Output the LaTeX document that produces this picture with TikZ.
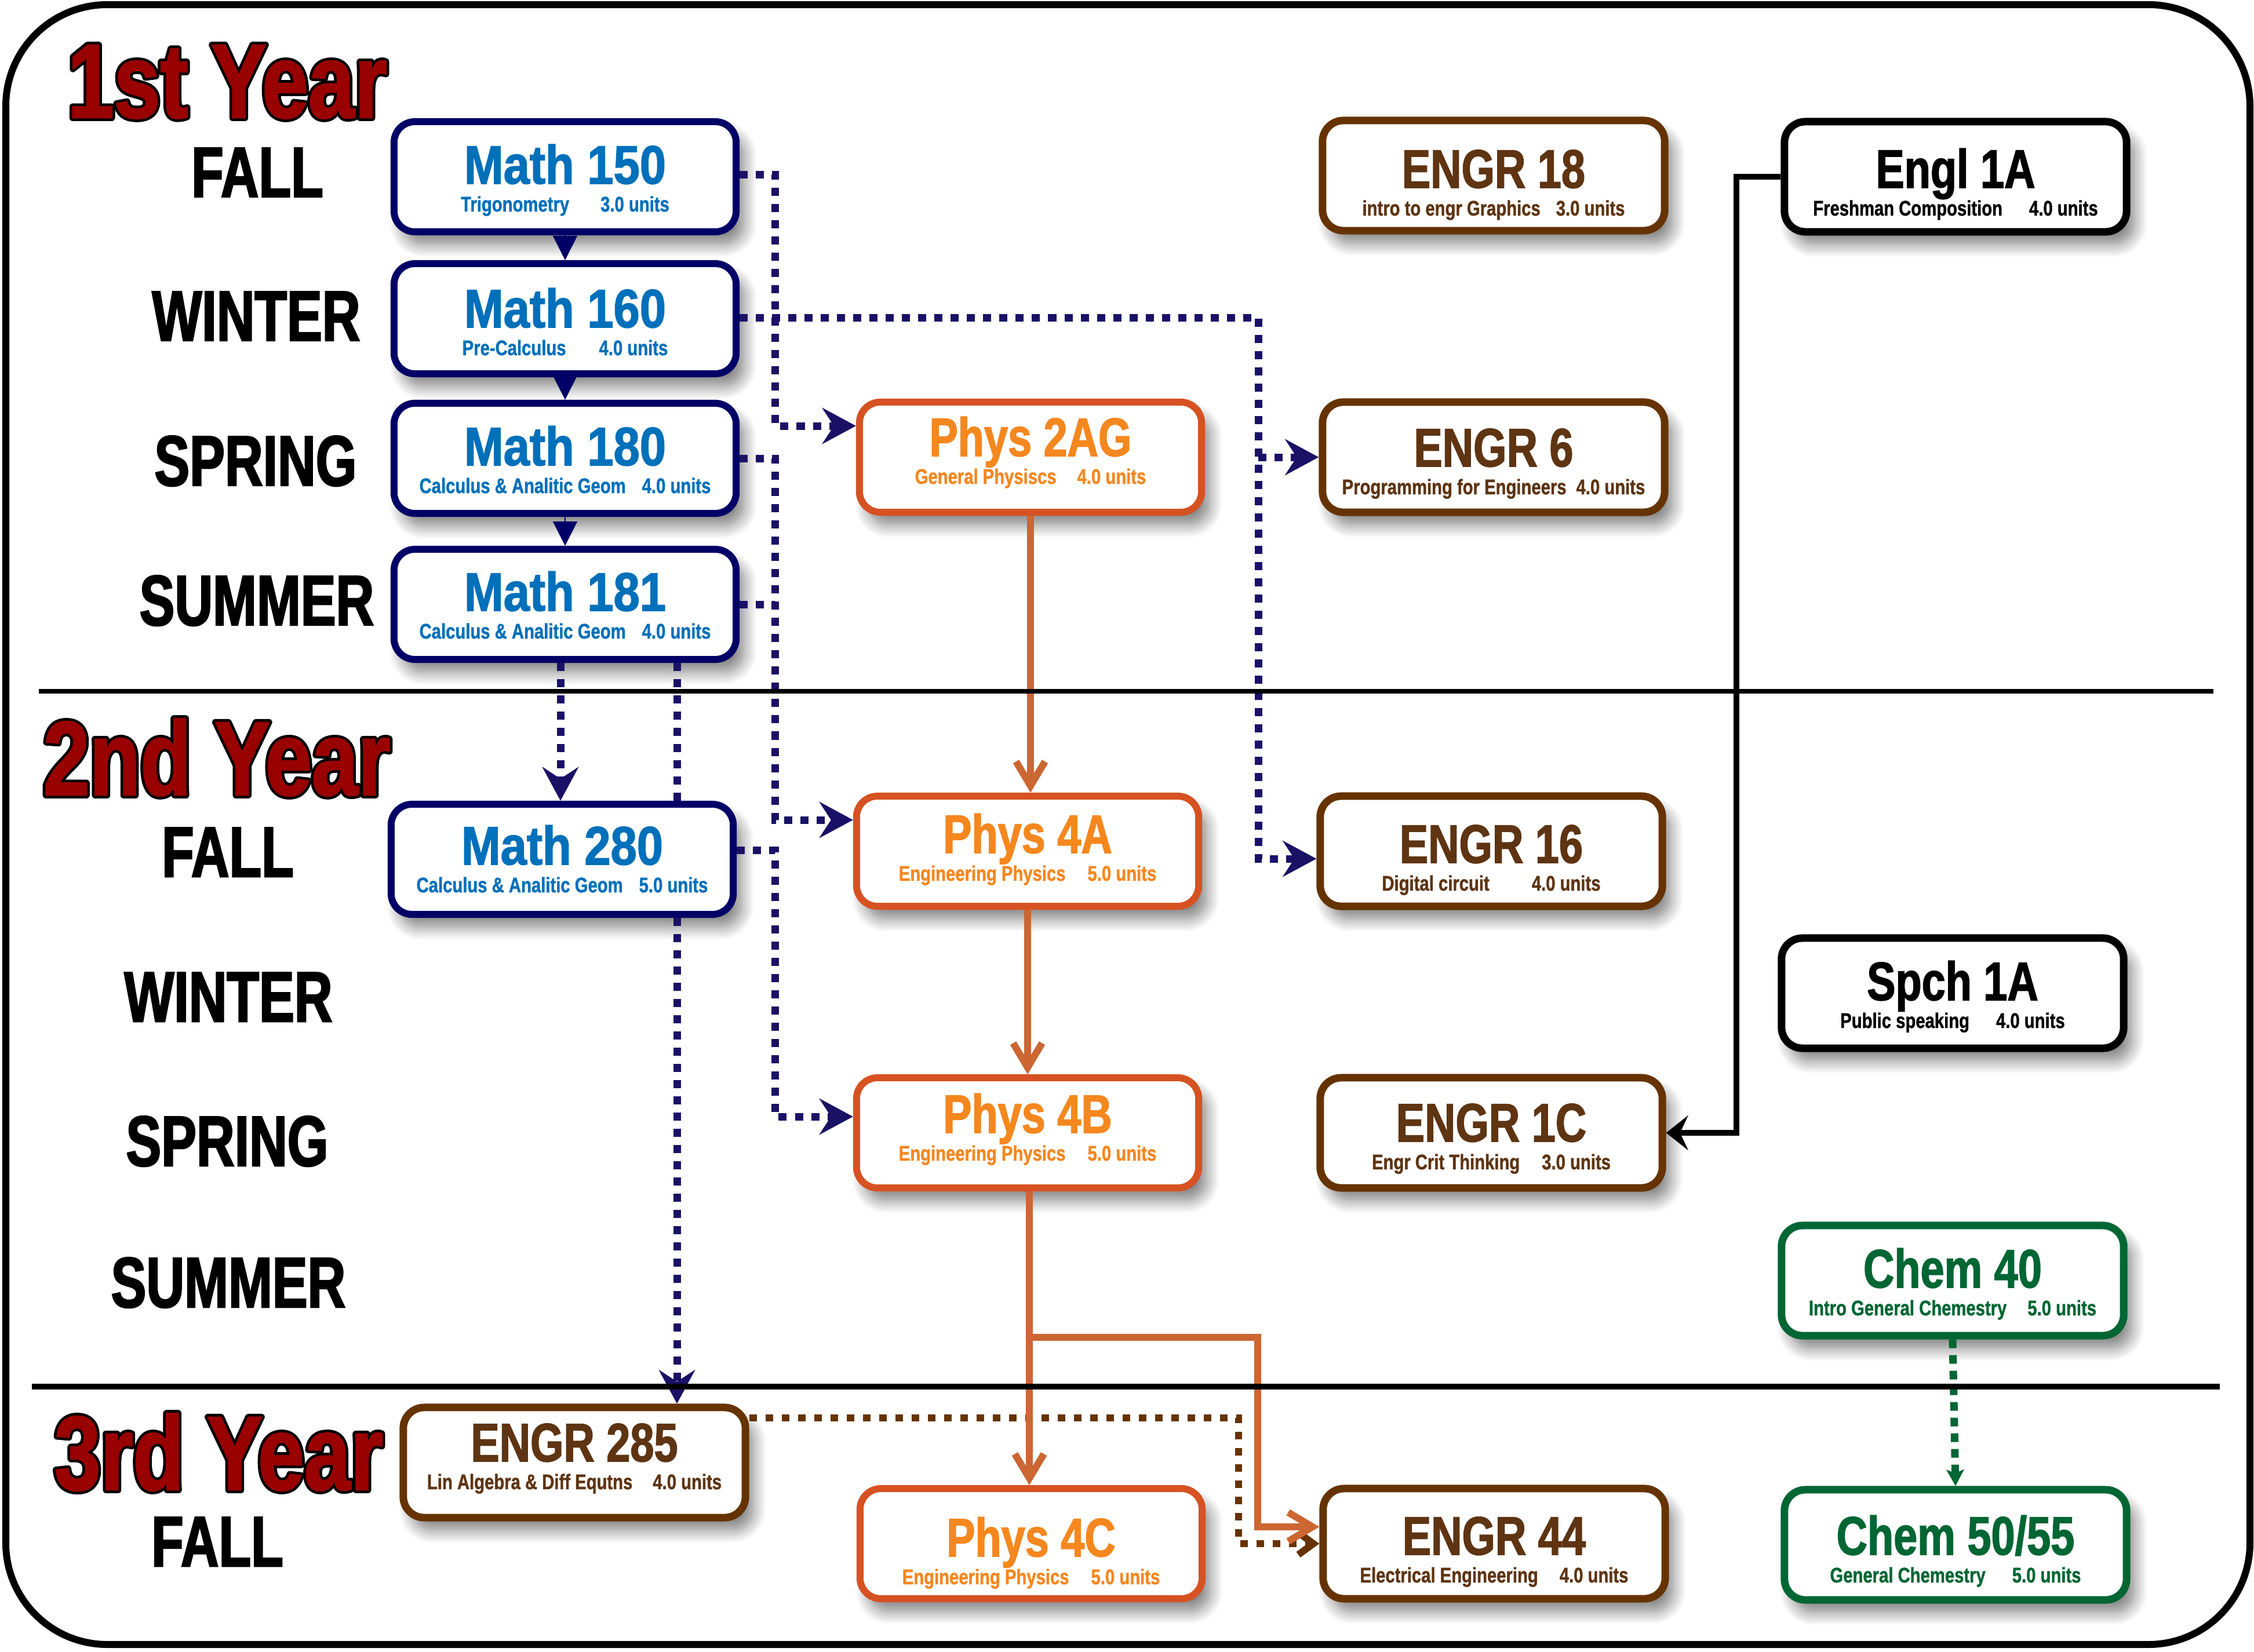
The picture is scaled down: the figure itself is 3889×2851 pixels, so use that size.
\documentclass[tikz,border=0pt]{standalone}
\usepackage{fontspec}
\setmainfont{Liberation Sans}
\newfontfamily\yrfont[FakeStretch=0.79,FakeBold=1.5]{Liberation Sans}
\newfontfamily\semfont[FakeStretch=0.74,FakeBold=2]{Liberation Sans}
\newfontfamily\ttlfont[FakeStretch=0.79,FakeBold=1.6]{Liberation Sans}
\newfontfamily\mttlfont[FakeStretch=0.87,FakeBold=1.6]{Liberation Sans}
\newfontfamily\subfnt[FakeStretch=0.8,FakeBold=1]{Liberation Sans}
\usepackage{contour}
\contourlength{1.3pt}
\contournumber{16}
\usetikzlibrary{arrows.meta,calc,shadows.blur}
\definecolor{navybox}{RGB}{0,0,102}
\definecolor{navyline}{RGB}{26,17,102}
\definecolor{mathtext}{RGB}{0,112,186}
\definecolor{orngbox}{RGB}{214,82,34}
\definecolor{orngtext}{RGB}{245,135,31}
\definecolor{orngline}{RGB}{204,102,51}
\definecolor{brwnbox}{RGB}{102,51,0}
\definecolor{brwntext}{RGB}{94,52,18}
\definecolor{grnbox}{RGB}{0,102,51}
\definecolor{yearred}{RGB}{153,0,0}
\tikzset{
  box/.style={rounded corners=0.36cm, minimum width=5.9cm, minimum height=1.9cm,
    line width=0.13cm, fill=white, inner sep=0pt,
    blur shadow={shadow xshift=0.14cm, shadow yshift=-0.22cm, shadow blur radius=0.22cm,
      shadow blur steps=12, shadow opacity=50}},
  ttl/.style={font={\ttlfont\bfseries\fontsize{26.6}{30}\selectfont}, inner sep=0pt},
  mttl/.style={font={\mttlfont\bfseries\fontsize{26.6}{30}\selectfont}, inner sep=0pt},
  subt/.style={font={\subfnt\bfseries\fontsize{10.4}{12}\selectfont}, inner sep=0pt},
  math box/.style={draw=navybox, line width=0.12cm},
  math ttl/.style={mttl, text=mathtext}, math sub/.style={subt, text=mathtext},
  orng box/.style={draw=orngbox, line width=0.12cm},
  orng ttl/.style={ttl, text=orngtext}, orng sub/.style={subt, text=orngtext},
  brwn box/.style={draw=brwnbox},
  brwn ttl/.style={ttl, text=brwntext}, brwn sub/.style={subt, text=brwntext},
  blk box/.style={draw=black},
  blk ttl/.style={ttl, text=black}, blk sub/.style={subt, text=black},
  grn box/.style={draw=grnbox},
  grn ttl/.style={ttl, text=grnbox}, grn sub/.style={subt, text=grnbox},
  yeartitle/.style={font={\yrfont\bfseries\fontsize{51.7}{60}\selectfont}, inner sep=0pt, anchor=base west},
  sem/.style={font={\semfont\bfseries\fontsize{35}{40}\selectfont}, inner sep=0pt, anchor=base},
  navydot/.style={draw=navyline, line width=0.13cm, dash pattern=on 0.14cm off 0.14cm},
  browndot/.style={draw=brwnbox, line width=0.12cm, dash pattern=on 0.13cm off 0.15cm},
  grndot/.style={draw=grnbox, line width=0.13cm, dash pattern=on 0.15cm off 0.12cm},
  orngconn/.style={draw=orngline, line width=0.12cm},
  blkconn/.style={draw=black, line width=0.1cm},
  navytri/.style={draw=navybox, fill=navybox, line width=0.02cm, -{Triangle[length=0.42cm,width=0.42cm]}},
  navytip/.tip={Stealth[length=0.58cm,width=0.62cm,inset=0.2cm]},
  orngtip/.tip={Straight Barb[length=0.42cm,width=0.5cm]},
  browntip/.tip={Straight Barb[length=0.26cm,width=0.38cm]},
  blktip/.tip={Stealth[length=0.38cm,width=0.6cm,inset=0.14cm]},
  grntip/.tip={Stealth[length=0.28cm,width=0.3cm,inset=0.06cm]},
}
\newcommand\course[6]{%
  \node[box,#3 box] (#1) at (#2) {};
  \node[#3 ttl,anchor=base] (#1-t) at ($(#1.center)+(0,#4)$) {#5};
  \node[#3 sub,anchor=base] (#1-s) at ($(#1.center)+(0,#4+48)$) {#6};}
\newcommand\yeartext[1]{\contour{black}{\textcolor{yearred}{#1}}}
\begin{document}
\begin{tikzpicture}[x=0.01cm,y=-0.01cm]
\useasboundingbox (0,0) rectangle (3889,2851);
\draw[line width=0.12cm, rounded corners=1.75cm] (10,8) rectangle (3882,2838);

% year titles
\node[yeartitle] (y1) at (116,203) {\yeartext{1st Year}};
\node[yeartitle] (y2) at (74,1372) {\yeartext{2nd Year}};
\node[yeartitle] (y3) at (93,2571) {\yeartext{3rd Year}};

% semester labels
\node[sem] (s1a) at (444,340) {FALL};
\node[sem] (s1b) at (442,588) {WINTER};
\node[sem] (s1c) at (441,838) {SPRING};
\node[sem] (s1d) at (443,1079) {SUMMER};
\node[sem] (s2a) at (393,1513) {FALL};
\node[sem] (s2b) at (394,1763) {WINTER};
\node[sem] (s2c) at (392,2012) {SPRING};
\node[sem] (s2d) at (394,2256) {SUMMER};
\node[sem] (s3a) at (375,2703) {FALL};

% courses
\course{m150}{975,305}{math}{12}{Math 150}{Trigonometry\hspace{0.54cm}3.0 units}
\course{m160}{975,550}{math}{15}{Math 160}{Pre-Calculus\hspace{0.57cm}4.0 units}
\course{m180}{975,791}{math}{12}{Math 180}{Calculus \& Analitic Geom\hspace{0.28cm}4.0 units}
\course{m181}{975,1043}{math}{11}{Math 181}{Calculus \& Analitic Geom\hspace{0.28cm}4.0 units}
\course{m280}{970,1483}{math}{9}{Math 280}{Calculus \& Analitic Geom\hspace{0.28cm}5.0 units}
\course{e285}{991,2524}{brwn}{-2}{ENGR 285}{Lin Algebra \& Diff Equtns\hspace{0.35cm}4.0 units}
\course{p2ag}{1778,789}{orng}{-2}{Phys 2AG}{General Physiscs\hspace{0.36cm}4.0 units}
\course{p4a}{1773,1469}{orng}{3}{Phys 4A}{Engineering Physics\hspace{0.38cm}5.0 units}
\course{p4b}{1773,1955}{orng}{0}{Phys 4B}{Engineering Physics\hspace{0.38cm}5.0 units}
\course{p4c}{1779,2664}{orng}{22}{Phys 4C}{Engineering Physics\hspace{0.38cm}5.0 units}
\course{e18}{2577,303}{brwn}{21}{ENGR 18}{intro to engr Graphics\hspace{0.27cm}3.0 units}
\course{e6}{2577,789}{brwn}{16}{ENGR 6}{Programming for Engineers\hspace{0.17cm}4.0 units}
\course{e16}{2573,1469}{brwn}{20}{ENGR 16}{Digital circuit\hspace{0.73cm}4.0 units}
\course{e1c}{2573,1955}{brwn}{15}{ENGR 1C}{Engr Crit Thinking\hspace{0.38cm}3.0 units}
\course{e44}{2578,2664}{brwn}{19}{ENGR 44}{Electrical Engineering\hspace{0.37cm}4.0 units}
\course{engl}{3374,305}{blk}{19}{Engl 1A}{Freshman Composition\hspace{0.46cm}4.0 units}
\course{spch}{3369,1714}{blk}{12}{Spch 1A}{Public speaking\hspace{0.46cm}4.0 units}
\course{chem40}{3369,2210}{grn}{12}{Chem 40}{Intro General Chemestry\hspace{0.36cm}5.0 units}
\course{chem50}{3374,2666}{grn}{17}{Chem 50/55}{General Chemestry\hspace{0.46cm}5.0 units}

% helper coordinates for vertical runs
\coordinate (v1) at (1337,0);
\coordinate (v2) at (2171,0);
\coordinate (v3) at (2137,0);
\coordinate (v4) at (2996,0);
\coordinate (v5) at (2170,0);
\coordinate (xh) at (1168,0);
\coordinate (xg) at (967,0);

% math sequence
\draw[navytri] (m150.south) -- (m160.north);
\draw[navytri] (m160.south) -- (m180.north);
\draw[navytri] (m180.south) -- (m181.north);

% navy dotted prerequisites
\draw[navydot,-{navytip}] ($(m150.east)+(0,-4)$) -| ($(v1|-p2ag.west)+(0,-54)$) -- ($(p2ag.west)+(0,-54)$);
\draw[navydot,-{navytip}] (m180.east) -| ($(v1|-p4a.west)+(0,-54)$) -- ($(p4a.west)+(0,-54)$);
\draw[navydot] (m181.east) -- (v1|-m181.east);
\draw[navydot,-{navytip}] ($(m280.east)+(0,-16)$) -| ($(v1|-p4b.west)+(0,-28)$) -- ($(p4b.west)+(0,-28)$);
\draw[navydot,-{navytip}] ($(m160.east)+(0,-2)$) -| ($(v2|-e16.west)+(0,13)$) -- ($(e16.west)+(0,13)$);
\draw[navydot,-{navytip}] (v2|-e6.west) -- (e6.west);
\draw[navydot,-{navytip}] (xg|-m181.south) -- (xg|-m280.north);
\draw[navydot] (xh|-m181.south) -- (xh|-m280.north);
\draw[navydot,-{navytip}] (xh|-m280.south) -- (xh|-e285.north);

% brown dotted
\draw[browndot,-{browntip}] ($(e285.east)+(0,-77)$) -| (v3|-e44.west) -- (e44.west);

% orange solid
\draw[orngconn,-{orngtip}] (p2ag.south) -- (p2ag.south|-p4a.north);
\draw[orngconn,-{orngtip}] (p4a.south) -- (p4b.north);
\draw[orngconn,-{orngtip}] ($(p4b.south)+(3,0)$) -- ($(p4b.south|-p4c.north)+(3,0)$);
\draw[orngconn,-{orngtip}] ($(p4b.south)+(3,252)$) -| ($(v5|-e44.west)+(0,-29)$) -- ($(e44.west)+(0,-29)$);

% black solid
\draw[blkconn,-{blktip}] (engl.west) -| (v4|-e1c.east) -- (e1c.east);

% green dotted
\draw[grndot,-{grntip}] (chem40.south) -- (chem50.north);

% year separators
\draw[line width=0.08cm] (67,1193) -- (3819,1193);
\draw[line width=0.1cm] (55,2393) -- (3830,2393);
\end{tikzpicture}
\end{document}
